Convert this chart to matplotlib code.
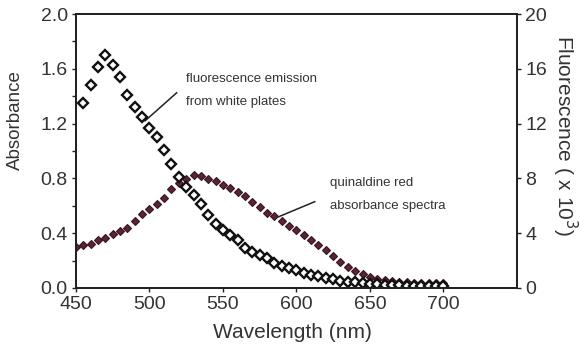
import matplotlib

matplotlib.use("Agg")
import matplotlib.pyplot as plt
import numpy as np

plt.rcParams["font.family"] = ["Liberation Sans", "DejaVu Sans"]

# quinaldine red absorbance (left axis), 5 nm steps
abs_wl = list(range(450, 701, 5))
absorbance = [
    0.300, 0.310, 0.322, 0.347, 0.366, 0.395, 0.415, 0.435, 0.490, 0.538,
    0.576, 0.613, 0.658, 0.722, 0.766, 0.792, 0.823, 0.815, 0.798, 0.782,
    0.755, 0.727, 0.704, 0.668, 0.628, 0.588, 0.550, 0.522, 0.488, 0.453,
    0.420, 0.385, 0.352, 0.314, 0.275, 0.235, 0.192, 0.150, 0.125, 0.100,
    0.080, 0.066, 0.056, 0.048, 0.043, 0.040, 0.038, 0.036, 0.035, 0.034,
    0.034,
]

# fluorescence emission from white plates (right axis, x 10^3)
fl_wl = list(range(455, 701, 5))
fluorescence = [
    13.5, 14.8, 16.1, 17.0, 16.3, 15.4, 14.1, 13.2, 12.5, 11.7,
    11.0, 10.1, 9.05, 8.1, 7.4, 6.8, 6.1, 5.35, 4.7, 4.25,
    3.9, 3.5, 2.95, 2.65, 2.4, 2.2, 1.85, 1.6, 1.45, 1.3,
    1.1, 0.95, 0.85, 0.75, 0.62, 0.52, 0.45, 0.40, 0.34, 0.30,
    0.26, 0.23, 0.20, 0.18, 0.16, 0.15, 0.14, 0.13, 0.12, 0.12,
]

x_ticks = [450, 500, 550, 600, 650, 700]
abs_ticks = [0.0, 0.4, 0.8, 1.2, 1.6, 2.0]
fl_ticks = [0, 4, 8, 12, 16, 20]

text_c = "#333333"

fig = plt.figure(figsize=(5.8, 3.52), dpi=100)
ax = fig.add_axes([0.131, 0.182, 0.760, 0.778])
ax2 = ax.twinx()

ax.plot(abs_wl, absorbance, linestyle="none", marker="D", markersize=3.8,
        markerfacecolor="#5a2433", markeredgecolor="#3a1520",
        markeredgewidth=0.8, zorder=3)
ax2.plot(fl_wl, fluorescence, linestyle="none", marker="D", markersize=4.8,
         markerfacecolor="white", markeredgecolor="#111111",
         markeredgewidth=1.7, zorder=2)

ax.set_xlim(450, 750)
ax.set_ylim(0, 2.0)
ax2.set_ylim(0, 20)
ax.set_xticks(x_ticks)
ax.set_yticks(abs_ticks)
ax.set_yticks(np.arange(0.2, 2.0, 0.4), minor=True)
ax.set_yticklabels([f"{v:.1f}" for v in abs_ticks])
ax2.set_yticks(fl_ticks)

for a in (ax, ax2):
    for s in a.spines.values():
        s.set_linewidth(1.4)
        s.set_color("#222222")
    a.tick_params(which="both", direction="out", length=3, width=1.0,
                  colors="#222222", labelsize=14, labelcolor=text_c, pad=3)

ax.set_xlabel("Wavelength (nm)", fontsize=15, color=text_c, va="center")
ax.xaxis.set_label_coords(0.49, -0.164)
ax.set_ylabel("Absorbance", fontsize=13.5, color=text_c, va="center")
ax.yaxis.set_label_coords(-0.138, 0.613)
ax2.set_ylabel("Fluorescence ( x 10$^3$)", fontsize=15, color=text_c,
               rotation=-90, va="center")
ax2.yaxis.set_label_coords(1.109, 0.555)

ax.text(525, 1.57, "fluorescence emission\nfrom white plates", fontsize=9.5,
        color=text_c, va="top", ha="left", linespacing=2.2)
ax.plot([497, 518.5], [1.22, 1.425], color="#222222", linewidth=1.1, zorder=4)

ax.text(623, 0.81, "quinaldine red\nabsorbance spectra", fontsize=9.5,
        color=text_c, va="top", ha="left", linespacing=2.2)
ax.plot([588, 612.5], [0.52, 0.63], color="#222222", linewidth=1.1, zorder=4)

fig.savefig("out.png", dpi=100)
